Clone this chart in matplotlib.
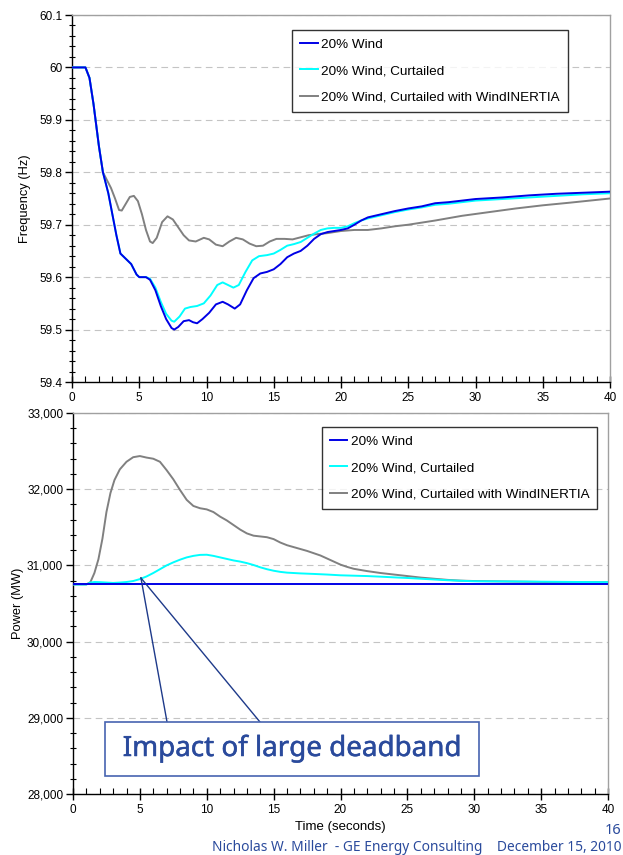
import matplotlib
matplotlib.use("Agg")
import matplotlib.pyplot as plt
from matplotlib.ticker import MultipleLocator, FuncFormatter
from matplotlib.patches import Rectangle
from matplotlib.lines import Line2D
import matplotlib.patheffects as pe

plt.rcParams['font.family'] = ['Liberation Sans', 'DejaVu Sans']

# ---------------- data ----------------
series_names = ["20% Wind", "20% Wind, Curtailed", "20% Wind, Curtailed with WindINERTIA"]
series_colors = ["#0000E6", "#00FFFF", "#808080"]

# Frequency (Hz)
t_f_wind = [0, 1.0, 1.3, 1.6, 2.0, 2.3, 2.7, 3.0, 3.3, 3.6, 4.0, 4.4, 4.8, 5.0, 5.5, 5.8, 6.2,
            6.6, 7.0, 7.4, 7.6, 7.9, 8.3, 8.7, 9.0, 9.3, 9.7, 10.2, 10.7, 11.2, 11.6, 12.1, 12.5,
            13.0, 13.5, 14.0, 14.5, 15.0, 15.5, 16.0, 16.5, 17.0, 17.5, 18.0, 18.5, 19.0, 19.5,
            20.0, 20.5, 21.0, 21.5, 22.0, 23.0, 24.0, 25.0, 26.0, 27.0, 28.0, 29.0, 30.0, 32.0,
            34.0, 36.0, 38.0, 40.0]
f_wind = [60.0, 60.0, 59.98, 59.93, 59.85, 59.80, 59.76, 59.72, 59.68, 59.645, 59.635, 59.625,
          59.605, 59.60, 59.60, 59.595, 59.575, 59.545, 59.52, 59.503, 59.50, 59.505, 59.516,
          59.518, 59.514, 59.512, 59.52, 59.532, 59.548, 59.553, 59.548, 59.540, 59.548, 59.575,
          59.598, 59.607, 59.61, 59.615, 59.625, 59.638, 59.645, 59.65, 59.66, 59.673, 59.682,
          59.686, 59.688, 59.69, 59.693, 59.70, 59.708, 59.714, 59.72, 59.726, 59.731, 59.735,
          59.741, 59.743, 59.746, 59.749, 59.752, 59.756, 59.759, 59.761, 59.763]

t_f_curt = [0, 1.0, 1.3, 1.6, 2.0, 2.3, 2.7, 3.0, 3.3, 3.6, 4.0, 4.4, 4.8, 5.0, 5.5, 5.8, 6.2,
            6.6, 7.0, 7.4, 7.6, 8.0, 8.4, 8.8, 9.3, 9.8, 10.3, 10.8, 11.2, 11.6, 12.0, 12.4, 12.9,
            13.4, 13.9, 14.5, 15.0, 15.5, 16.0, 16.5, 17.0, 17.5, 18.0, 18.5, 19.0, 19.5, 20.0,
            20.5, 21.0, 21.5, 22.0, 23.0, 24.0, 25.0, 26.0, 27.0, 28.0, 29.0, 30.0, 32.0, 34.0,
            36.0, 38.0, 40.0]
f_curt = [60.0, 60.0, 59.98, 59.93, 59.85, 59.80, 59.76, 59.72, 59.68, 59.645, 59.635, 59.625,
          59.605, 59.60, 59.60, 59.597, 59.58, 59.553, 59.53, 59.517, 59.515, 59.525, 59.54,
          59.543, 59.545, 59.55, 59.565, 59.585, 59.59, 59.585, 59.58, 59.585, 59.61, 59.632,
          59.64, 59.642, 59.645, 59.652, 59.66, 59.663, 59.667, 59.675, 59.683, 59.69, 59.693,
          59.694, 59.694, 59.697, 59.703, 59.708, 59.712, 59.718, 59.724, 59.729, 59.733,
          59.738, 59.74, 59.743, 59.746, 59.749, 59.752, 59.755, 59.758, 59.760]

t_f_inert = [0, 1.0, 1.3, 1.6, 2.0, 2.3, 2.6, 2.9, 3.2, 3.5, 3.7, 4.0, 4.3, 4.6, 4.9, 5.2, 5.5,
             5.8, 6.0, 6.3, 6.7, 7.1, 7.5, 7.9, 8.3, 8.7, 9.2, 9.8, 10.2, 10.7, 11.2, 11.7, 12.2,
             12.7, 13.2, 13.7, 14.2, 14.7, 15.2, 15.8, 16.4, 17.0, 17.6, 18.2, 19.0, 20.0, 21.0,
             22.0, 23.0, 24.0, 25.0, 27.0, 29.0, 31.0, 33.0, 35.0, 37.0, 40.0]
f_inert = [60.0, 60.0, 59.98, 59.93, 59.85, 59.80, 59.785, 59.77, 59.75, 59.728, 59.727, 59.74,
           59.753, 59.755, 59.745, 59.72, 59.69, 59.668, 59.665, 59.675, 59.705, 59.716, 59.71,
           59.695, 59.68, 59.67, 59.668, 59.675, 59.672, 59.662, 59.659, 59.668, 59.675, 59.672,
           59.664, 59.659, 59.66, 59.668, 59.673, 59.673, 59.672, 59.676, 59.68, 59.682, 59.684,
           59.688, 59.69, 59.69, 59.693, 59.697, 59.70, 59.708, 59.717, 59.724, 59.731, 59.737,
           59.742, 59.75]

# Power (MW)
t_p_wind = [0, 40.0]
p_wind = [30750, 30750]

t_p_curt = [0, 1.0, 1.3, 1.6, 2.0, 2.5, 3.0, 3.5, 4.0, 4.5, 5.0, 5.5, 6.0, 6.5, 7.0, 7.5, 8.0,
            8.5, 9.0, 9.5, 10.0, 10.5, 11.0, 11.5, 12.0, 12.5, 13.0, 13.5, 14.0, 14.5, 15.0, 15.5,
            16.0, 17.0, 18.0, 19.0, 20.0, 21.0, 22.0, 23.0, 24.0, 25.0, 26.0, 27.0, 28.0, 29.0,
            30.0, 32.0, 34.0, 36.0, 38.0, 40.0]
p_curt = [30750, 30750, 30775, 30782, 30780, 30775, 30770, 30775, 30782, 30795, 30820, 30855,
          30900, 30950, 31000, 31040, 31075, 31105, 31125, 31138, 31140, 31125, 31105, 31085,
          31065, 31050, 31030, 31005, 30975, 30950, 30930, 30915, 30905, 30895, 30888, 30880,
          30870, 30865, 30860, 30852, 30843, 30835, 30825, 30815, 30805, 30798, 30792, 30790,
          30788, 30785, 30782, 30780]

t_p_inert = [0, 1.0, 1.3, 1.6, 1.9, 2.2, 2.5, 2.8, 3.1, 3.5, 4.0, 4.5, 5.0, 5.5, 6.0, 6.5, 7.0,
             7.5, 8.0, 8.5, 9.0, 9.5, 10.0, 10.5, 11.0, 11.5, 12.0, 12.5, 13.0, 13.5, 14.0, 14.5,
             15.0, 15.5, 16.0, 16.5, 17.0, 17.5, 18.0, 18.5, 19.0, 19.5, 20.0, 20.5, 21.0, 22.0,
             23.0, 24.0, 25.0, 26.0, 27.0, 28.0, 29.0, 30.0, 32.0, 34.0, 36.0, 38.0, 40.0]
p_inert = [30750, 30750, 30780, 30900, 31080, 31350, 31700, 31950, 32120, 32260, 32360, 32420,
           32435, 32415, 32400, 32360, 32250, 32130, 31990, 31860, 31780, 31750, 31735, 31700,
           31640, 31590, 31530, 31470, 31420, 31390, 31380, 31370, 31345, 31300, 31265, 31240,
           31215, 31190, 31160, 31130, 31090, 31050, 31010, 30980, 30955, 30925, 30900, 30880,
           30860, 30840, 30825, 30810, 30800, 30795, 30790, 30785, 30780, 30780, 30780]

x_ticks = [0, 5, 10, 15, 20, 25, 30, 35, 40]
freq_ticks = [59.4, 59.5, 59.6, 59.7, 59.8, 59.9, 60.0, 60.1]
power_ticks = [28000, 29000, 30000, 31000, 32000, 33000]

callout_text = "Impact of large deadband"
footer_page = "16"
footer_text = "Nicholas W. Miller  - GE Energy Consulting    December 15, 2010"

# ---------------- figure ----------------
W, H = 623, 855
fig = plt.figure(figsize=(W / 100, H / 100), dpi=100)


def px_axes(l, t, r, b):
    return fig.add_axes([l / W, 1 - b / H, (r - l) / W, (b - t) / H])


ax1 = px_axes(72, 15, 610, 382)
ax2 = px_axes(73, 413, 608, 794)

lw = 1.4
ax1.plot(t_f_inert, f_inert, color=series_colors[2], lw=lw, zorder=3)
ax1.plot(t_f_curt, f_curt, color=series_colors[1], lw=lw, zorder=4)
ax1.plot(t_f_wind, f_wind, color=series_colors[0], lw=lw, zorder=5)

ax2.plot(t_p_inert, p_inert, color=series_colors[2], lw=lw, zorder=3)
ax2.plot(t_p_curt, p_curt, color=series_colors[1], lw=lw, zorder=4)
ax2.plot(t_p_wind, p_wind, color=series_colors[0], lw=lw, zorder=5)

ax1.set_xlim(0, 40)
ax1.set_ylim(59.4, 60.1)
ax2.set_xlim(0, 40)
ax2.set_ylim(28000, 33000)

ax1.set_yticks(freq_ticks)
ax1.yaxis.set_major_formatter(FuncFormatter(lambda v, p: f"{v:g}"))
ax1.yaxis.set_minor_locator(MultipleLocator(0.02))
ax2.set_yticks(power_ticks)
ax2.yaxis.set_major_formatter(FuncFormatter(lambda v, p: f"{v:,.0f}"))
ax2.yaxis.set_minor_locator(MultipleLocator(200))

for ax in (ax1, ax2):
    ax.set_xticks(x_ticks)
    ax.xaxis.set_minor_locator(MultipleLocator(1))
    ax.tick_params(axis='x', which='major', direction='inout', length=9, width=1,
                   labelsize=8.5, pad=3)
    ax.tick_params(axis='x', which='minor', direction='in', length=4, width=0.8)
    ax.tick_params(axis='y', which='major', direction='out', length=5, width=1,
                   labelsize=8.5, pad=2)
    ax.tick_params(axis='y', which='minor', direction='inout', length=5, width=0.8)
    ax.grid(axis='y', which='major', color='#C4C4C4', linestyle=(0, (6, 4)), lw=0.8)
    ax.set_axisbelow(True)
    for s in ('top', 'right'):
        ax.spines[s].set_color('#A0A0A0')
        ax.spines[s].set_linewidth(1)
    for s in ('left', 'bottom'):
        ax.spines[s].set_color('black')
        ax.spines[s].set_linewidth(1)

ax1.set_ylabel("Frequency (Hz)", fontsize=9.3, labelpad=6)
ax2.set_ylabel("Power (MW)", fontsize=9.3, labelpad=2)
ax2.set_xlabel("Time (seconds)", fontsize=9.5, labelpad=3)

handles = [Line2D([], [], color=c, lw=lw) for c in series_colors]
leg_kw = dict(fontsize=9.7, frameon=True, fancybox=False, edgecolor='black',
              handlelength=1.3, handletextpad=0.25, labelspacing=1.05, borderpad=0.6,
              borderaxespad=0, loc='upper left')
leg1 = ax1.legend(handles, series_names, bbox_to_anchor=(0.409, 0.959), **leg_kw)
leg2 = ax2.legend(handles, series_names, bbox_to_anchor=(0.465, 0.963), **leg_kw)
for lg in (leg1, leg2):
    lg.get_frame().set_linewidth(1.0)

# callout for the deadband region
callout_color = '#1E3A8A'
box_color = '#4763B0'
text_color = '#2A4A9C'
anchor = (5.08, 30835)
box_x0, box_x1 = 2.39, 30.35
box_y0, box_y1 = 28236, 28945
ax2.plot([anchor[0], 7.03], [anchor[1], box_y1], color=callout_color, lw=1.0, zorder=6)
ax2.plot([anchor[0], 13.98], [anchor[1], box_y1], color=callout_color, lw=1.0, zorder=6)
ax2.add_patch(Rectangle((box_x0, box_y0), box_x1 - box_x0, box_y1 - box_y0,
                        facecolor='white', edgecolor=box_color, lw=1.2, zorder=7))
ax2.text((box_x0 + box_x1) / 2, (box_y0 + box_y1) / 2, callout_text,
         ha='center', va='center', fontsize=20, color=text_color,
         family=['Noto Sans', 'DejaVu Sans'], zorder=8,
         path_effects=[pe.withStroke(linewidth=0.35, foreground=text_color)])

fig.text(621 / W, 1 - 830 / H, footer_page, ha='right', va='center', fontsize=10.5,
         color=text_color, family=['Noto Sans', 'DejaVu Sans'])
fig.text(621 / W, 1 - 847 / H, footer_text, ha='right', va='center', fontsize=9.9,
         color=text_color, family=['Noto Sans', 'DejaVu Sans'])

fig.savefig("out.png", dpi=100)
